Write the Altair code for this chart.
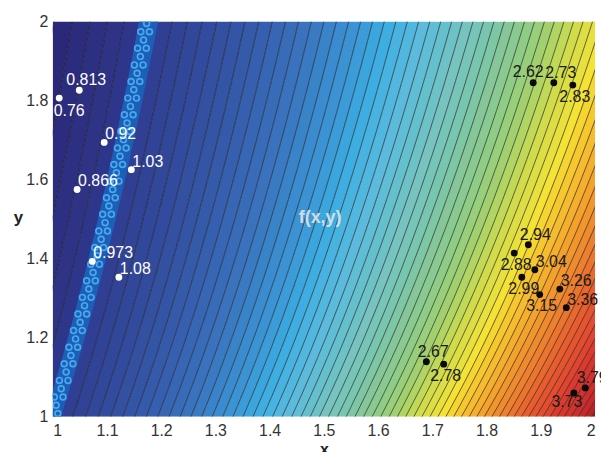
import altair as alt
import numpy as np
import pandas as pd

# ---------------- data ----------------
# surface estimated from the labelled points: f(x, y) ~ x**2 / y**0.47
F_X_POWER = 2.0
F_Y_POWER = 0.47

# contour levels (spacing 0.05) and the hatched band around f = 1
contour_levels = [round(0.725 + 0.05 * k, 3) for k in range(66)]
band_lo, band_hi = 0.97, 1.03

white_x = [1.012, 1.049, 1.095, 1.145, 1.045, 1.073, 1.122]
white_y = [1.806, 1.826, 1.694, 1.625, 1.575, 1.393, 1.353]
white_lab = ["0.76", "0.813", "0.92", "1.03", "0.866", "0.973", "1.08"]
white_pos = ["se", "n", "ne", "ne", "ne", "ne", "ne"]

black_x = [1.886, 1.924, 1.959, 1.877, 1.851, 1.889, 1.865, 1.898, 1.935, 1.947, 1.689, 1.721, 1.982, 1.961]
black_y = [1.845, 1.845, 1.839, 1.435, 1.414, 1.372, 1.353, 1.309, 1.323, 1.276, 1.139, 1.133, 1.073, 1.060]
black_lab = ["2.62", "2.73", "2.83", "2.94", "2.88", "3.04", "2.99", "3.15", "3.26", "3.36", "2.67", "2.78", "3.79", "3.73"]
black_pos = ["nw", "n", "s", "n", "s", "ne", "s", "s", "ne", "ne", "n", "s", "n", "sw"]

x_ticks = [1.0, 1.1, 1.2, 1.3, 1.4, 1.5, 1.6, 1.7, 1.8, 1.9, 2.0]
y_ticks = [1.0, 1.1, 1.2, 1.3, 1.4, 1.5, 1.6, 1.7, 1.8, 1.9, 2.0]

color_stops = [0.70, 1.00, 1.30, 1.55, 1.75, 1.90, 2.05, 2.25, 2.45, 2.65, 2.80, 2.95, 3.10, 3.30, 3.50, 3.70, 3.90, 4.05]
color_list = ["#2a2575", "#2f3a8f", "#3454a5", "#3a72bd", "#3b93d4", "#3eaee2", "#5cbbdc", "#76c3c0",
              "#86c79a", "#a3d06e", "#d2dc4a", "#f4e234", "#f6bb2e", "#ef8a2e", "#e85c2e", "#dd3a2e",
              "#c8282a", "#9e1a1e"]

# ---------------- derived tables ----------------
def x_on_level(c, y):
    return (c * np.power(y, F_Y_POWER)) ** (1.0 / F_X_POWER)


def y_on_level(c, x):
    return (np.power(x, F_X_POWER) / c) ** (1.0 / F_Y_POWER)


def band_table(lo, hi, key, mid):
    xs0 = min(max(x_on_level(lo, 1.0), 1.0), 2.0)
    xe0 = min(max(x_on_level(hi, 2.0), 1.0), 2.0)
    if xe0 <= xs0:
        return []
    pts = list(np.linspace(xs0, xe0, 90))
    for cx in (x_on_level(lo, 2.0), x_on_level(hi, 1.0)):
        if xs0 < cx < xe0:
            pts.append(cx)
    pts = sorted(set(float(p) for p in pts))
    rows = []
    for x in pts:
        yb = float(np.clip(y_on_level(hi, x), 1.0, 2.0))
        yt = float(np.clip(y_on_level(lo, x), 1.0, 2.0))
        rows.append({"band": key, "x": x, "y_lo": yb, "y_hi": yt, "mid": mid})
    return rows


edges = [0.3] + contour_levels + [5.0]
band_rows = []
for k in range(len(edges) - 1):
    lo, hi = edges[k], edges[k + 1]
    mid = min(max((lo + hi) / 2, 0.70), 4.05)
    band_rows.extend(band_table(lo, hi, k, mid))
bands = pd.DataFrame(band_rows)
special = pd.DataFrame(band_table(band_lo, band_hi, 0, 1.0))

ys = np.linspace(1.0, 2.0, 41)
line_rows = []
for c in contour_levels:
    for y in ys:
        line_rows.append({"level": c, "y": float(y), "x": float(x_on_level(c, y))})
lines = pd.DataFrame(line_rows)

# circle pattern inside the hatched band
circ_rows = []
for i, y in enumerate(np.arange(1.008, 2.0, 0.021)):
    xl = x_on_level(band_lo, y)
    xh = x_on_level(band_hi, y)
    xx = xl + 0.0068 + (i % 2) * 0.008
    while xx <= xh - 0.0045:
        circ_rows.append({"x": float(xx), "y": float(y)})
        xx += 0.016
circles = pd.DataFrame(circ_rows)

white = pd.DataFrame({"x": white_x, "y": white_y, "label": white_lab, "pos": white_pos})
black = pd.DataFrame({"x": black_x, "y": black_y, "label": black_lab, "pos": black_pos})

FONT = "Liberation Sans"
xscale = alt.Scale(domain=[1, 2], nice=False, zero=False)
yscale = alt.Scale(domain=[1, 2], nice=False, zero=False)

xaxis = alt.Axis(values=x_ticks, format="~g", ticks=False, domain=False, grid=False,
                 labelFontSize=16, labelColor="#333333", labelFont=FONT, labelPadding=6,
                 title="x", titleFont=FONT, titleFontSize=16, titleFontWeight="bold",
                 titleColor="#222222", titleBaseline="alphabetic", titleY=38)
yaxis = alt.Axis(values=y_ticks, format="~g", ticks=False, domain=False, grid=False,
                 labelFontSize=16, labelColor="#333333", labelFont=FONT, labelPadding=5,
                 title="y", titleFont=FONT, titleFontSize=17, titleFontWeight="bold",
                 titleColor="#222222", titleAngle=0, titleX=-35, titleY=197,
                 titleAlign="center", titleBaseline="middle")

area = alt.Chart(bands).mark_area(clip=True, interpolate="linear").encode(
    x=alt.X("x:Q", scale=xscale, axis=xaxis),
    y=alt.Y("y_lo:Q", scale=yscale, axis=yaxis),
    y2="y_hi:Q",
    color=alt.Color("mid:Q", scale=alt.Scale(domain=color_stops, range=color_list), legend=None),
    detail="band:N",
)

contours = alt.Chart(lines).mark_line(color="#141414", strokeWidth=0.75, opacity=0.85, clip=True).encode(
    x="x:Q", y="y:Q", detail="level:N", order=alt.Order("y:Q"))

band_area = alt.Chart(special).mark_area(clip=True, color="#1d5fb6").encode(
    x="x:Q", y="y_lo:Q", y2="y_hi:Q")

band_circles = alt.Chart(circles).mark_point(shape="circle", filled=False, size=34, strokeWidth=1.7,
                                            color="#46a9ef", opacity=1, clip=True).encode(x="x:Q", y="y:Q")

wpts = alt.Chart(white).mark_circle(size=48, color="#ffffff", opacity=1).encode(x="x:Q", y="y:Q")
bpts = alt.Chart(black).mark_circle(size=48, color="#0a0a0a", opacity=1).encode(x="x:Q", y="y:Q")

placements = {
    "ne": dict(align="left", dx=1, dy=-8),
    "n": dict(align="center", dx=7, dy=-10),
    "nw": dict(align="center", dx=-5, dy=-11),
    "s": dict(align="center", dx=2, dy=12),
    "se": dict(align="center", dx=10, dy=13),
    "sw": dict(align="center", dx=-7, dy=9),
}

texts = []
for df, col in ((white, "#ffffff"), (black, "#1a1a1a")):
    for key, opts in placements.items():
        if (df["pos"] == key).any():
            texts.append(
                alt.Chart(df).transform_filter(alt.datum.pos == key).mark_text(
                    font=FONT, fontSize=16, color=col, baseline="middle", **opts
                ).encode(x="x:Q", y="y:Q", text="label:N")
            )

ftext = alt.Chart(pd.DataFrame({"x": [1.493], "y": [1.5025], "t": ["f(x,y)"]})).mark_text(
    font=FONT, fontSize=18, fontWeight="bold", color="#e4e4e4", opacity=0.9,
    align="center", baseline="middle").encode(x="x:Q", y="y:Q", text="t:N")

chart = alt.layer(area, contours, band_area, band_circles, wpts, bpts, *texts, ftext).properties(
    width=546, height=398,
    padding={"left": 45, "top": 12, "right": 6, "bottom": 40},
    autosize=alt.AutoSizeParams(type="none"),
    background="white",
).configure_view(stroke=None)

chart.save("out.html", embed_options={"renderer": "svg", "actions": False})
